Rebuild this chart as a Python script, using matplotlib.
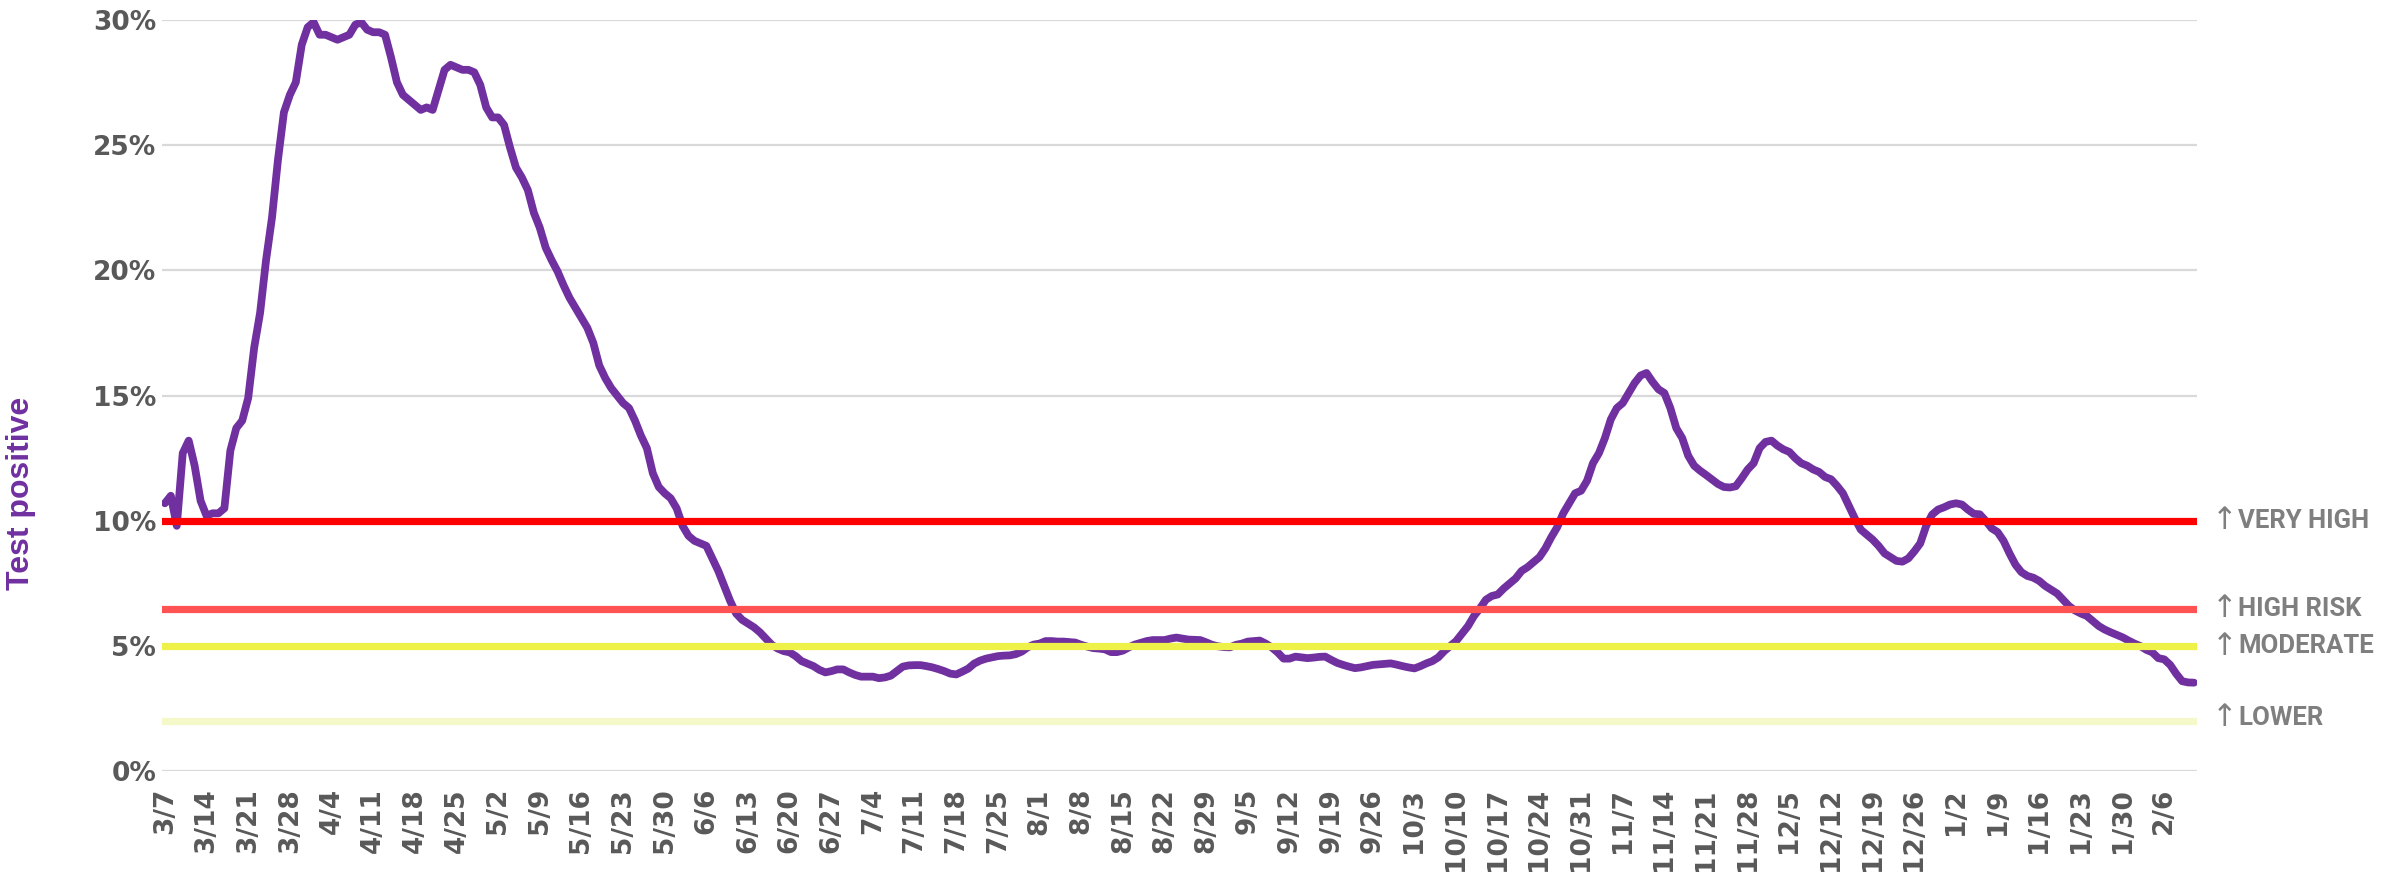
import numpy as np
import pandas as pd
import matplotlib
matplotlib.use('Agg')
import matplotlib.pyplot as plt

# daily share of tests positive (%), starting 3/7/2020
start_date = '2020-03-07'
test_positive = [
    10.7, 11.0, 9.8, 12.7, 13.2, 12.2, 10.8, 10.2, 10.3, 10.3,
    10.5, 12.8, 13.7, 14.0, 14.9, 16.9, 18.3, 20.4, 22.1, 24.4,
    26.3, 27.0, 27.5, 29.0, 29.7, 29.9, 29.4, 29.4, 29.3, 29.2,
    29.3, 29.4, 29.8, 29.9, 29.6, 29.5, 29.5, 29.4, 28.5, 27.5,
    27.0, 26.8, 26.6, 26.4, 26.5, 26.4, 27.2, 28.0, 28.2, 28.1,
    28.0, 28.0, 27.9, 27.4, 26.5, 26.1, 26.1, 25.8, 24.9, 24.1,
    23.7, 23.2, 22.3, 21.7, 20.9, 20.4, 19.95, 19.4, 18.9, 18.5,
    18.1, 17.7, 17.1, 16.2, 15.7, 15.3, 15.0, 14.7, 14.5, 14.0,
    13.4, 12.9, 11.9, 11.35, 11.1, 10.9, 10.5, 9.8, 9.4, 9.2,
    9.1, 9.0, 8.5, 8.0, 7.4, 6.8, 6.3, 6.05, 5.9, 5.75,
    5.55, 5.3, 5.05, 4.9, 4.8, 4.75, 4.6, 4.4, 4.3, 4.2,
    4.05, 3.95, 4.0, 4.07, 4.07, 3.95, 3.85, 3.78, 3.78, 3.78,
    3.72, 3.75, 3.82, 4.0, 4.18, 4.23, 4.24, 4.24, 4.2, 4.15,
    4.08, 4.0, 3.9, 3.87, 3.98, 4.1, 4.3, 4.42, 4.5, 4.55,
    4.6, 4.62, 4.63, 4.68, 4.78, 4.95, 5.06, 5.1, 5.2, 5.2,
    5.18, 5.18, 5.16, 5.14, 5.05, 4.98, 4.92, 4.9, 4.87, 4.76,
    4.76, 4.82, 4.95, 5.06, 5.13, 5.2, 5.24, 5.24, 5.24, 5.3,
    5.34, 5.3, 5.26, 5.25, 5.24, 5.15, 5.05, 4.99, 4.96, 4.95,
    5.05, 5.1, 5.18, 5.2, 5.22, 5.1, 4.95, 4.75, 4.5, 4.5,
    4.58, 4.55, 4.52, 4.54, 4.57, 4.58, 4.45, 4.33, 4.25, 4.18,
    4.12, 4.15, 4.2, 4.25, 4.27, 4.29, 4.31, 4.26, 4.2, 4.15,
    4.11, 4.2, 4.31, 4.4, 4.55, 4.8, 5.0, 5.2, 5.5, 5.8,
    6.2, 6.5, 6.85, 7.0, 7.06, 7.3, 7.5, 7.7, 8.0, 8.15,
    8.35, 8.55, 8.9, 9.35, 9.75, 10.3, 10.7, 11.1, 11.2, 11.6,
    12.3, 12.7, 13.3, 14.05, 14.5, 14.7, 15.1, 15.5, 15.8, 15.9,
    15.55, 15.25, 15.1, 14.5, 13.7, 13.3, 12.6, 12.2, 12.0, 11.83,
    11.65, 11.47, 11.35, 11.33, 11.38, 11.7, 12.05, 12.3, 12.9, 13.15,
    13.2, 13.0, 12.85, 12.75, 12.5, 12.3, 12.2, 12.05, 11.95, 11.75,
    11.66, 11.4, 11.1, 10.6, 10.1, 9.65, 9.45, 9.25, 9.0, 8.7,
    8.55, 8.4, 8.37, 8.5, 8.78, 9.1, 9.8, 10.25, 10.45, 10.54,
    10.65, 10.7, 10.65, 10.45, 10.28, 10.26, 10.0, 9.7, 9.55, 9.2,
    8.7, 8.25, 7.95, 7.8, 7.73, 7.6, 7.4, 7.25, 7.1, 6.85,
    6.6, 6.42, 6.3, 6.2, 6.0, 5.8, 5.66, 5.55, 5.45, 5.35,
    5.22, 5.1, 5.0, 4.85, 4.75, 4.52, 4.47, 4.25, 3.9, 3.6,
    3.55, 3.54,
]

# risk thresholds (%)
risk_labels = ['VERY HIGH', 'HIGH RISK', 'MODERATE', 'LOWER']
risk_levels = [10, 6.5, 5, 2]
risk_colors = ['#FF0000', '#FF5252', '#EEF147', '#F5F8C8']

dates = pd.date_range(start_date, periods=len(test_positive), freq='D')
x = np.arange(len(test_positive))
tick_pos = x[::7]
tick_labels = [f'{d.month}/{d.day}' for d in dates[::7]]

fig = plt.figure(figsize=(23.81, 8.72), dpi=100)
ax = fig.add_axes([0.068, 0.1154, 0.8547, 0.862])

ax.plot(x, test_positive, color='#7030A0', lw=5.6, solid_joinstyle='round',
        solid_capstyle='round', zorder=3)

for lvl, col, lab in zip(risk_levels, risk_colors, risk_labels):
    ax.hlines(lvl, -0.5, len(x) - 0.5, colors=col, lw=5.2, capstyle='round', zorder=4)
    y_lab = lvl + (0.15 if lab == 'LOWER' else 0)
    # thin arrow, then bold label
    ax.annotate('\u2191', (len(x) + 2, y_lab), color='#7F7F7F', fontsize=22,
                family='DejaVu Sans', va='center', ha='left', annotation_clip=False)
    ax.annotate(lab, (len(x) + 2, y_lab), xytext=(19, 0), textcoords='offset points',
                color='#7F7F7F', fontsize=18.5, fontweight='bold',
                family=['Roboto', 'DejaVu Sans'], va='center', ha='left',
                annotation_clip=False)

ax.set_xlim(-0.5, len(x) - 0.5)
ax.set_ylim(0, 30)
ax.set_yticks(range(0, 31, 5))
ax.set_yticklabels([f'{v}%' for v in range(0, 31, 5)])
ax.set_xticks(tick_pos)
ax.set_xticklabels(tick_labels, rotation=90)
ax.grid(axis='y', color='#D9D9D9', lw=1.6)
ax.set_axisbelow(True)
for s in ax.spines.values():
    s.set_visible(False)
ax.tick_params(axis='both', length=0, labelcolor='#595959', labelsize=19)
ax.tick_params(axis='x', pad=12)
ax.tick_params(axis='y', pad=4)
for t in ax.get_xticklabels() + ax.get_yticklabels():
    t.set_fontweight('bold')

ax.set_ylabel('Test positive', color='#7030A0', fontsize=23, fontweight='bold',
              family='Liberation Sans')
ax.yaxis.set_label_coords(-0.062, 0.37)

fig.savefig('out.png', dpi=100)
